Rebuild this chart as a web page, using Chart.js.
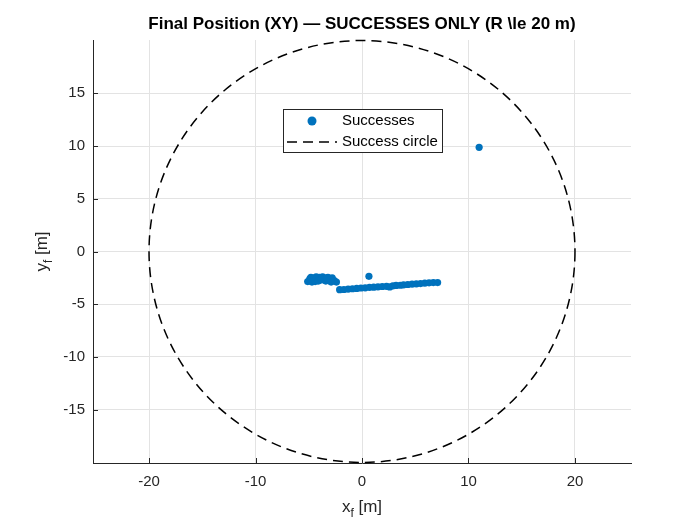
<!DOCTYPE html>
<html><head><meta charset="utf-8">
<script src="https://cdn.jsdelivr.net/npm/chart.js@4"></script>
<style>html,body{margin:0;padding:0;background:#fff}#wrap{width:700px;height:525px}</style>
</head><body><div id="wrap"><canvas id="c"></canvas></div>
<script>
const successX = [-5.1,-4.9,-4.8,-4.6,-4.5,-4.3,-4.2,-4.0,-3.9,-3.7,-3.5,-3.4,-3.2,-3.0,-2.8,-2.6,-2.4,-4.7,-4.4,-4.1,-3.8,-3.3,-2.9,
  -2.1,-1.7,-1.3,-0.9,-0.5,-0.1,0.3,0.7,1.1,1.5,1.9,2.3,2.6,2.9,3.2,3.6,3.9,4.3,4.7,5.1,5.5,5.9,6.3,6.7,7.1,
  0.65,11.0];
const successY = [-2.85,-2.6,-2.45,-2.75,-2.5,-2.4,-2.7,-2.45,-2.6,-2.4,-2.55,-2.8,-2.45,-2.6,-2.5,-2.75,-2.9,-2.9,-2.85,-2.8,-2.7,-2.5,-2.9,
  -3.62,-3.6,-3.56,-3.53,-3.5,-3.46,-3.44,-3.4,-3.38,-3.35,-3.32,-3.3,-3.36,-3.25,-3.22,-3.2,-3.16,-3.13,-3.1,-3.07,-3.04,-3.0,-2.97,-2.95,-2.95,
  -2.35,9.88];
const xTicks = [-20,-10,0,10,20];
const yTicks = [-15,-10,-5,0,5,10,15];
const successRadius = 20;
const titleText = 'Final Position (XY) \u2014 SUCCESSES ONLY (R \\le 20 m)';
const legendLabels = ['Successes','Success circle'];

const BLUE = '#0072BD';
const AX = '#262626';
const FONT = '"Liberation Sans", Arial, Helvetica, sans-serif';

const points = successX.map((x,i)=>({x, y: successY[i]}));

const overlay = {
  id: 'overlay',
  beforeDatasetsDraw(chart) {
    const {ctx, scales:{x, y}} = chart;
    const cx = x.getPixelForValue(0), cy = y.getPixelForValue(0);
    const rx = Math.abs(x.getPixelForValue(successRadius) - cx);
    const ry = Math.abs(y.getPixelForValue(successRadius) - cy);
    ctx.save();
    ctx.strokeStyle = '#000';
    ctx.lineWidth = 1.5;
    ctx.setLineDash([10,6]);
    ctx.beginPath();
    ctx.ellipse(cx, cy, rx, ry, 0, 0, Math.PI*2);
    ctx.stroke();
    ctx.restore();
  },
  afterDraw(chart) {
    const {ctx, chartArea:a, scales:{x, y}} = chart;
    ctx.save();
    ctx.strokeStyle = AX; ctx.lineWidth = 1;
    ctx.beginPath();
    xTicks.forEach(v=>{ const px = Math.round(x.getPixelForValue(v))+0.5; ctx.moveTo(px, a.bottom); ctx.lineTo(px, a.bottom-5); });
    yTicks.forEach(v=>{ const py = Math.round(y.getPixelForValue(v))+0.5; ctx.moveTo(a.left, py); ctx.lineTo(a.left+5, py); });
    ctx.stroke();
    ctx.fillStyle = '#000';
    ctx.font = 'bold 17px ' + FONT;
    ctx.textAlign = 'center'; ctx.textBaseline = 'middle';
    ctx.fillText(titleText, (a.left+a.right)/2, 24);
    function subLabel(base, sub, rest, cx, cy, rot) {
      ctx.save();
      ctx.translate(cx, cy); ctx.rotate(rot);
      ctx.fillStyle = AX;
      ctx.textBaseline = 'alphabetic'; ctx.textAlign = 'left';
      const big = '17px ' + FONT, small = '12px ' + FONT;
      ctx.font = big; const w1 = ctx.measureText(base).width;
      ctx.font = small; const w2 = ctx.measureText(sub).width;
      ctx.font = big; const w3 = ctx.measureText(rest).width;
      let sx = -(w1+w2+w3)/2;
      ctx.font = big; ctx.fillText(base, sx, 5); sx += w1;
      ctx.font = small; ctx.fillText(sub, sx, 10); sx += w2;
      ctx.font = big; ctx.fillText(rest, sx, 5);
      ctx.restore();
    }
    subLabel('x', 'f', ' [m]', (a.left+a.right)/2, 507, 0);
    subLabel('y', 'f', ' [m]', 42, (a.top+a.bottom)/2, -Math.PI/2);
    const lx = a.left + 190, ly = a.top + 69, lw = 159, lh = 43;
    ctx.fillStyle = '#fff';
    ctx.fillRect(lx, ly, lw, lh);
    ctx.strokeStyle = AX; ctx.lineWidth = 1;
    ctx.strokeRect(lx+0.5, ly+0.5, lw, lh);
    ctx.fillStyle = BLUE;
    ctx.beginPath(); ctx.arc(lx+29, ly+12, 4.5, 0, Math.PI*2); ctx.fill();
    ctx.strokeStyle = '#000'; ctx.lineWidth = 1.5; ctx.setLineDash([10,6]);
    ctx.beginPath(); ctx.moveTo(lx+4, ly+33); ctx.lineTo(lx+54, ly+33); ctx.stroke();
    ctx.setLineDash([]);
    ctx.fillStyle = '#000';
    ctx.font = '15px ' + FONT; ctx.textAlign = 'left'; ctx.textBaseline = 'middle';
    ctx.fillText(legendLabels[0], lx+59, ly+12);
    ctx.fillText(legendLabels[1], lx+59, ly+33);
    ctx.restore();
  }
};

new Chart(document.getElementById('c'), {
  type: 'scatter',
  data: { datasets: [{
    label: legendLabels[0],
    data: points,
    backgroundColor: BLUE,
    borderColor: BLUE,
    pointRadius: 3.6,
    pointBorderWidth: 0
  }]},
  options: {
    responsive: true, maintainAspectRatio: false, animation: false,
    devicePixelRatio: 1,
    layout: { padding: { top: 40, right: 69, left: 0, bottom: 0 } },
    plugins: { legend: { display: false }, tooltip: { enabled: false }, title: { display: false } },
    scales: {
      x: {
        type: 'linear', min: -25.26, max: 25.26,
        afterBuildTicks: s => { s.ticks = xTicks.map(v=>({value:v})); },
        afterFit: s => { s.height = 62; },
        grid: { color: '#e3e3e3', drawTicks: false },
        border: { display: true, color: AX, width: 1 },
        ticks: { color: AX, font: { size: 15, family: FONT }, padding: 10, maxRotation: 0 }
      },
      y: {
        type: 'linear', min: -20.05, max: 20.05,
        afterBuildTicks: s => { s.ticks = yTicks.map(v=>({value:v})); },
        afterFit: s => { s.width = 93; },
        grid: { color: '#e3e3e3', drawTicks: false },
        border: { display: true, color: AX, width: 1 },
        ticks: { color: AX, font: { size: 15, family: FONT }, padding: 8 }
      }
    }
  },
  plugins: [overlay]
});
</script></body></html>
